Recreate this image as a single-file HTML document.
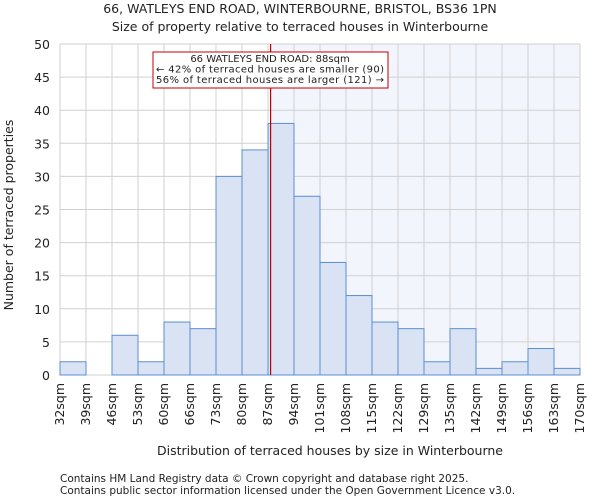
<!DOCTYPE html>
<html><head><meta charset="utf-8"><style>
body{margin:0;background:#fff;font-family:"DejaVu Sans","Liberation Sans",sans-serif;}
svg text{font-family:"DejaVu Sans","Liberation Sans",sans-serif;fill:#222;}
</style></head><body>
<svg id="c" width="600" height="500" xmlns="http://www.w3.org/2000/svg">
<text x="300" y="13" text-anchor="middle" font-size="12.5">66, WATLEYS END ROAD, WINTERBOURNE, BRISTOL, BS36 1PN</text>
<text x="300" y="31" text-anchor="middle" font-size="12.5">Size of property relative to terraced houses in Winterbourne</text>
<g id="plot"></g>
<text x="330" y="455" text-anchor="middle" font-size="12.5">Distribution of terraced houses by size in Winterbourne</text>
<text x="13" y="215" text-anchor="middle" font-size="12.5" transform="rotate(-90 13 215)">Number of terraced properties</text>
<text x="60" y="482" font-size="10.5" fill="#555">Contains HM Land Registry data © Crown copyright and database right 2025.</text>
<text x="60" y="494" font-size="10.5" fill="#555">Contains public sector information licensed under the Open Government Licence v3.0.</text>
</svg>
<script>
const binLabels=["32sqm","39sqm","46sqm","53sqm","60sqm","66sqm","73sqm","80sqm","87sqm","94sqm","101sqm","108sqm","115sqm","122sqm","129sqm","135sqm","142sqm","149sqm","156sqm","163sqm","170sqm"];
const counts=[2,0,6,2,8,7,30,34,38,27,17,12,8,7,2,7,1,2,4,1];
const yTicks=[0,5,10,15,20,25,30,35,40,45,50];
const markerIndex=8.1;
const NS="http://www.w3.org/2000/svg";
const L=60,R=580,T=44,B=375,yMax=50;
const n=counts.length,bw=(R-L)/n;
const xs=i=>L+i*bw;
const ys=v=>B-(v/yMax)*(B-T);
const g=document.getElementById('plot');
function mk(t,a){const e=document.createElementNS(NS,t);for(const k in a)e.setAttribute(k,a[k]);g.appendChild(e);return e;}
let e;
e=mk('rect',{x:xs(markerIndex),y:T,width:R-xs(markerIndex),height:B-T,fill:'#f3f5fd'});


yTicks.forEach(v=>{
 e=mk('line',{x1:L,x2:R,y1:ys(v),y2:ys(v),stroke:'#d0d0d0','stroke-width':1});
 
 
 e=mk('text',{x:L-10,y:ys(v)+5,'text-anchor':'end','font-size':12.5});e.textContent=v;
 
 
});
binLabels.forEach((s,i)=>{
 e=mk('line',{x1:xs(i),x2:xs(i),y1:T,y2:B,stroke:'#d0d0d0','stroke-width':1});
 
 
 const x=xs(i)+4;
 e=mk('text',{x:x,y:B+8,'text-anchor':'end','font-size':12.5,transform:`rotate(-90 ${x} ${B+8})`});e.textContent=s;
 
 
});
counts.forEach((v,i)=>{
 if(v<=0)return;
 e=mk('rect',{x:xs(i),y:ys(v),width:bw,height:B-ys(v),fill:'#dae3f3',stroke:'#5b8fd0','stroke-width':1});
 
 
});
e=mk('line',{x1:xs(markerIndex),x2:xs(markerIndex),y1:T,y2:B,stroke:'#c00000','stroke-width':1.2});


e=mk('rect',{x:153,y:52,width:235,height:36,fill:'#fff',stroke:'#c00000','stroke-width':1});


["66 WATLEYS END ROAD: 88sqm","← 42% of terraced houses are smaller (90)","56% of terraced houses are larger (121) →"].forEach((s,i)=>{
 e=mk('text',{x:270,y:62+i*10.5,'text-anchor':'middle','font-size':10});e.textContent=s;
 if(i>0)e.setAttribute('textLength',228);
 
 
});
</script>
</body></html>
